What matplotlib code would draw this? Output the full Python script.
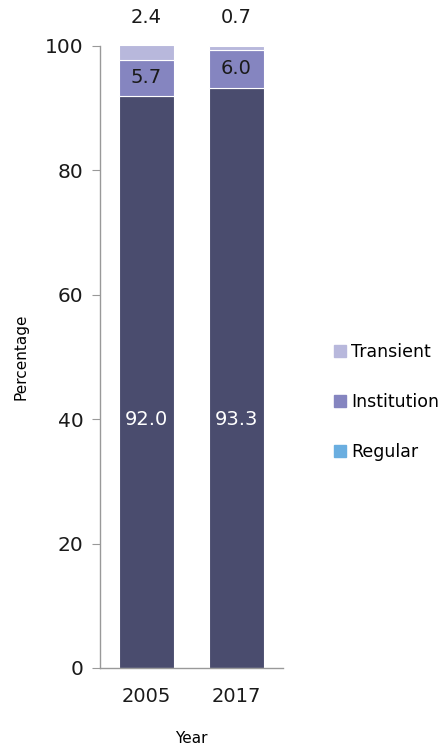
import matplotlib.pyplot as plt
from matplotlib.patches import Patch

years = ['2005', '2017']
regular = [92.0, 93.3]
institution = [5.7, 6.0]
transient = [2.4, 0.7]

col_regular = '#4a4c6e'
col_regular_legend = '#6aaee0'
col_inst = '#8585c0'
col_trans = '#b8b8dc'

fig = plt.figure(figsize=(4.47, 7.45), dpi=100)
ax = fig.add_axes([0.2237, 0.1034, 0.409, 0.835])

x = range(len(years))
w = 0.61
ax.bar(x, regular, w, color=col_regular, edgecolor='white', linewidth=0.8)
bot = regular
ax.bar(x, institution, w, bottom=bot, color=col_inst, edgecolor='white', linewidth=0.8)
bot2 = [a + b for a, b in zip(regular, institution)]
ax.bar(x, transient, w, bottom=bot2, color=col_trans, edgecolor='white', linewidth=0.8)

for i in x:
    ax.text(i, 40, f'{regular[i]:.1f}', ha='center', va='center', color='white', fontsize=14)
    ax.text(i, regular[i] + institution[i] / 2, f'{institution[i]:.1f}', ha='center', va='center',
            color='#1a1a1a', fontsize=14)
    ax.text(i, 104.5, f'{transient[i]:.1f}', ha='center', va='center', color='#1a1a1a',
            fontsize=14, clip_on=False)

ax.set_xlim(-0.517, 1.517)
ax.set_ylim(0, 100)
ax.set_xticks(list(x))
ax.set_xticklabels(years)
ax.set_yticks([0, 20, 40, 60, 80, 100])
ax.tick_params(axis='y', length=6, color='#999999', labelsize=14.5, pad=6, labelcolor='#1a1a1a')
ax.tick_params(axis='x', length=0, labelsize=14, pad=14, labelcolor='#1a1a1a')
for s in ['top', 'right']:
    ax.spines[s].set_visible(False)
for s in ['left', 'bottom']:
    ax.spines[s].set_color('#999999')
    ax.spines[s].set_linewidth(1)

ax.set_ylabel('Percentage', fontsize=11, labelpad=12)
ax.set_xlabel('Year', fontsize=11, labelpad=18)

handles = [Patch(color=col_trans, label='Transient'),
           Patch(color=col_inst, label='Institution'),
           Patch(color=col_regular_legend, label='Regular')]
fig.legend(handles=handles, loc='center left', bbox_to_anchor=(0.712, 0.46), frameon=False,
           fontsize=12.5, handlelength=0.7, handleheight=0.7, handletextpad=0.3, labelspacing=1.85)

plt.savefig('out.png', dpi=100)
